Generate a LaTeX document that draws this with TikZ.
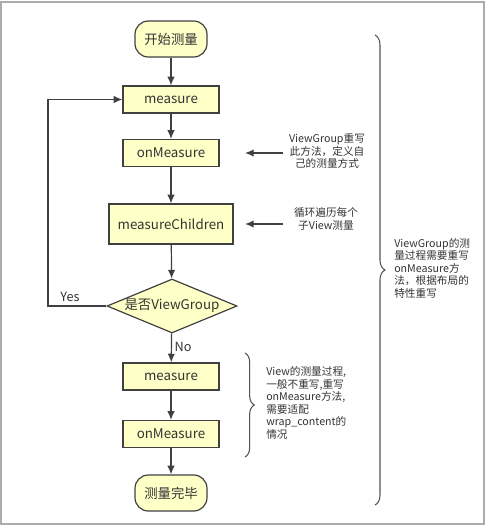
\documentclass[tikz,border=0pt]{standalone}
\usepackage{fontspec}
\setmainfont{Noto Sans CJK SC}
\usepackage{xcolor}
\usetikzlibrary{shapes.geometric,arrows.meta,decorations.pathreplacing,positioning}
\definecolor{relleno}{RGB}{255,255,200}
\definecolor{borde}{RGB}{64,64,64}
\definecolor{texto}{RGB}{51,51,51}
\tikzset{
  caja/.style={draw=borde,fill=relleno,line width=0.9pt,inner sep=0pt,
    minimum width=72pt,minimum height=20.25pt,text=texto,font=\fontsize{10}{12}\selectfont},
  inicio/.style={caja,rounded corners=10pt,minimum width=54pt,minimum height=27pt},
  decide/.style={caja,diamond,minimum width=97.5pt,minimum height=40.5pt,aspect=2.4},
  flujo/.style={-{Latex[length=6.5pt,width=5.5pt]},draw=borde,line width=0.9pt},
  nota/.style={text=texto,inner sep=0pt,font=\fontsize{8}{9.4}\selectfont},
  llave/.style={decorate,draw=borde!90,line width=0.8pt},
  etiq/.style={text=texto,inner sep=0pt,font=\fontsize{9.5}{11}\selectfont}
}
\begin{document}
\begin{tikzpicture}[x=0.75pt,y=-0.75pt]
\useasboundingbox (0,0) rectangle (486,526);
\draw[gray!65,line width=1.5pt] (1,1.5) rectangle (484,524);
% main flow
\node[inicio] (ini) at (171,39) {开始测量};
\node[caja] (med1) at (171,99.5) {measure};
\node[caja] (onm1) at (171,153) {onMeasure};
\node[caja,minimum width=93pt,minimum height=30pt] (hijos) at (171,224) {measureChildren};
\node[decide] (esvg) at (172,306) {是否ViewGroup};
\node[caja] (med2) at (171,376.5) {measure};
\node[caja] (onm2) at (171,434) {onMeasure};
\node[inicio] (fin) at (171,493) {测量完毕};
\draw[flujo] (ini) -- (med1);
\draw[flujo] (med1) -- (onm1);
\draw[flujo] (onm1) -- (hijos);
\draw[flujo] (hijos) -- (esvg);
\draw[flujo] (esvg) -- node[etiq,right=2pt,pos=0.45] (no) {No} (med2);
\draw[flujo] (med2) -- (onm2);
\draw[flujo] (onm2) -- (fin);
% loop back
\coordinate (vuelta) at (48,306);
\draw[flujo] (esvg.west) -- (vuelta) |- (med1.west);
\node[etiq] (si) at (70,297) {Yes};
% notes
\node[nota,align=center] (n1) at (327,151) {ViewGroup重写\\此方法，定义自\\己的测量方式};
\coordinate (p1) at (245,153);
\draw[flujo] (283,153) -- (p1);
\node[nota,align=center] (n2) at (326,219) {循环遍历每个\\子View测量};
\coordinate (p2) at (245,224);
\draw[flujo] (283,224) -- (p2);
% braces
\draw[llave,decoration={brace,amplitude=7pt}] (245,353) -- (245,457);
\node[nota,align=left,anchor=west] (n3) at (266,403) {View的测量过程,\\一般不重写,重写\\onMeasure方法,\\需要适配\\wrap\_content的\\情况};
\draw[llave,decoration={brace,amplitude=7.5pt}] (375,35) -- (375,505);
\node[nota,align=left,anchor=west] (n4) at (394,268) {ViewGroup的测\\量过程需要重写\\onMeasure方\\法，根据布局的\\特性重写};
\end{tikzpicture}
\end{document}
